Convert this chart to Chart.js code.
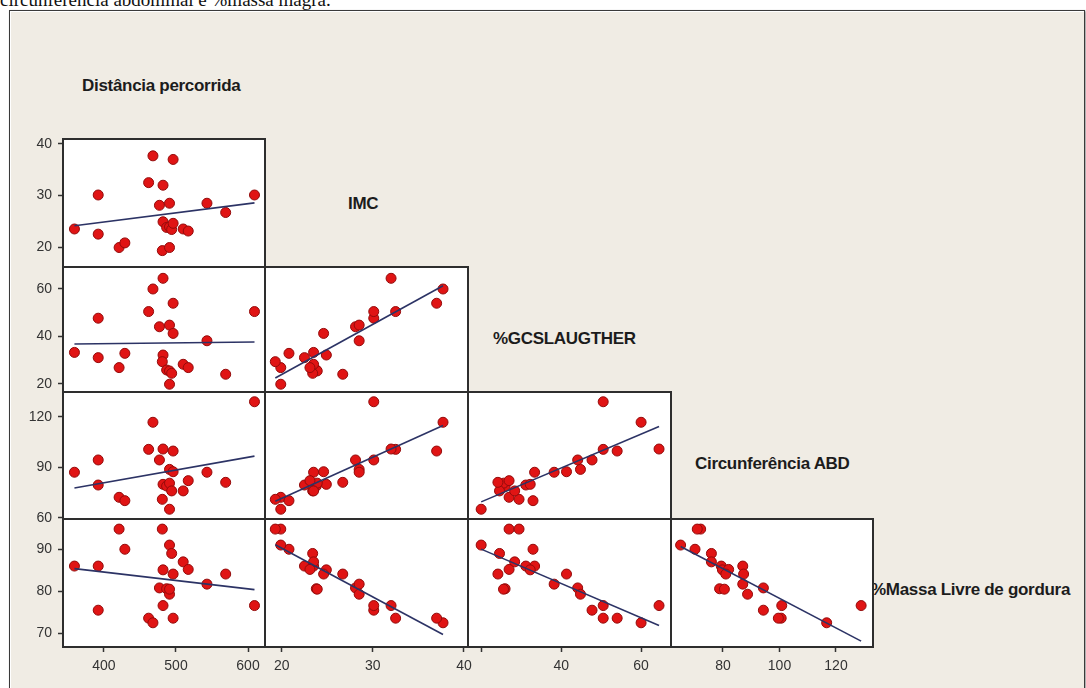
<!DOCTYPE html>
<html>
<head>
<meta charset="utf-8">
<script src="https://cdn.jsdelivr.net/npm/chart.js@4.4.1/dist/chart.umd.min.js"></script>
<style>
html,body{margin:0;padding:0;background:#fff;width:1086px;height:688px;overflow:hidden;position:relative;font-family:'Liberation Sans',Arial,sans-serif;}
#topline{position:absolute;left:0px;top:-10px;font-family:'Liberation Serif','Times New Roman',serif;font-size:19px;line-height:19px;white-space:nowrap;color:#111;}
#frame{position:absolute;left:9px;top:10px;width:1074px;height:700px;background:#f0ece4;border:1px solid #3a3a3a;box-shadow:inset 1px 1px 0 #ffffff,1px 1px 2px rgba(0,0,0,0.45);}
.vlabel{position:absolute;font-weight:bold;font-size:17px;line-height:17px;letter-spacing:-0.3px;white-space:nowrap;color:#1c1c1c;}
canvas{position:absolute;}
</style>
</head>
<body>
<div id="topline">circunferência abdominal e %massa magra.</div>
<div id="frame"></div>
<script>
// ---- data (one value per subject) ----
const varNames = ['Distância percorrida', 'IMC', '%GCSLAUGTHER', 'Circunferência ABD', '%Massa Livre de gordura'];
const distancia   = [359, 392, 392, 421, 429, 462, 468, 477, 482, 482, 481, 487, 491, 491, 491, 494, 496, 496, 510, 517, 543, 569, 609];
const imc         = [23.5, 30.1, 22.5, 19.9, 20.8, 32.5, 37.7, 28.1, 32.0, 24.9, 19.3, 23.8, 28.5, 23.9, 19.9, 23.4, 37.0, 24.6, 23.5, 23.1, 28.5, 26.7, 30.1];
const gcSlaughter = [33.3, 47.7, 31.1, 26.9, 32.9, 50.5, 60.0, 44.1, 64.5, 32.2, 29.4, 25.9, 44.8, 25.5, 19.9, 24.5, 54.0, 41.3, 28.3, 26.9, 38.2, 24.1, 50.5];
const circAbd     = [87.0, 94.3, 79.4, 72.1, 70.1, 100.6, 116.7, 94.3, 100.8, 79.8, 70.9, 78.8, 88.7, 80.5, 65.0, 75.9, 99.6, 87.3, 75.9, 82.0, 87.0, 81.0, 128.9];
const massaLivre  = [86.0, 75.5, 86.0, 94.8, 90.0, 73.6, 72.5, 80.8, 76.6, 85.1, 94.8, 80.6, 79.3, 80.5, 91.0, 89.0, 73.6, 84.1, 87.0, 85.2, 81.7, 84.1, 76.6];

// ---- tick labels ----
const distTicks   = [400, 500, 600];
const imcTicks    = [20, 30, 40];
const gcTicks     = [20, 40, 60];
const abdYTicks   = [60, 90, 120];
const abdXTicks   = [80, 100, 120];
const mlgTicks    = [70, 80, 90];
const gcXHiddenLabels = [20];

const series = [distancia, imc, gcSlaughter, circAbd, massaLivre];

// ---- layout / axis configuration ----
const xAxisCfg = [
  {min: 343.1, max: 623.6, ticks: distTicks, hide: []},
  {min: 18.17, max: 40.44, ticks: imcTicks, hide: []},
  {min: 16.6,  max: 67.5,  ticks: gcTicks, hide: gcXHiddenLabels},
  {min: 61.6,  max: 133.1, ticks: abdXTicks, hide: []}
];
const yAxisCfg = [
  null,
  {min: 16.12, max: 40.97, ticks: imcTicks},
  {min: 16.63, max: 69.26, ticks: gcTicks},
  {min: 59.2,  max: 134.7, ticks: abdYTicks},
  {min: 66.74, max: 97.2,  ticks: mlgTicks}
];
const colEdges = [63, 265, 468, 671, 873];
const rowEdges = [139, 267, 392, 519, 647];
const labelPos = [
  {left: 82, top: 77}, {left: 348, top: 195}, {left: 493, top: 330}, {left: 695, top: 455}, {left: 871, top: 581}
];
const AXW = 40, AXH = 30, EXT = 10;

varNames.forEach((n, i) => {
  const d = document.createElement('div');
  d.className = 'vlabel';
  d.textContent = n;
  d.style.left = labelPos[i].left + 'px';
  d.style.top = labelPos[i].top + 'px';
  document.body.appendChild(d);
});

function regression(xs, ys) {
  const n = xs.length;
  const mx = xs.reduce((a, b) => a + b, 0) / n;
  const my = ys.reduce((a, b) => a + b, 0) / n;
  let sxy = 0, sxx = 0;
  for (let i = 0; i < n; i++) { sxy += (xs[i] - mx) * (ys[i] - my); sxx += (xs[i] - mx) ** 2; }
  const b = sxy / sxx, a = my - b * mx;
  const x0 = Math.min(...xs), x1 = Math.max(...xs);
  return [{x: x0, y: a + b * x0}, {x: x1, y: a + b * x1}];
}

const panelPlugin = {
  id: 'panel',
  beforeDraw(chart) {
    const {ctx, chartArea: a} = chart;
    ctx.save();
    ctx.fillStyle = '#ffffff';
    ctx.fillRect(a.left, a.top, a.right - a.left, a.bottom - a.top);
    ctx.restore();
  },
  afterDraw(chart) {
    const {ctx, chartArea: a} = chart;
    ctx.save();
    ctx.strokeStyle = '#2e2e2e';
    ctx.lineWidth = 2;
    ctx.strokeRect(a.left, a.top, a.right - a.left, a.bottom - a.top);
    ctx.restore();
  }
};

const tickFont = {family: "'Liberation Sans', Arial, sans-serif", size: 14};
const zeroPad = () => ({left: 0, top: 0, right: 0, bottom: 0});

function axisOptions(cfg, show, isX) {
  return {
    type: 'linear',
    min: cfg.min, max: cfg.max,
    display: show,
    position: isX ? 'bottom' : 'left',
    afterBuildTicks: s => { s.ticks = cfg.ticks.map(v => ({value: v})); },
    afterFit: s => {
      if (show) { if (isX) s.height = AXH; else s.width = AXW; }
      s.paddingLeft = 0; s.paddingRight = 0; s.paddingTop = 0; s.paddingBottom = 0;
      s.getPadding = zeroPad;
    },
    grid: {display: true, drawOnChartArea: false, drawTicks: true, tickLength: 5, tickColor: '#333', tickWidth: 1.5, color: '#333'},
    border: {display: false},
    ticks: {
      font: tickFont, color: '#333', padding: 6, maxRotation: 0, autoSkip: false,
      callback: v => (cfg.hide && cfg.hide.includes(v)) ? '' : String(v)
    }
  };
}

for (let r = 1; r <= 4; r++) {
  for (let c = 0; c < r; c++) {
    const x0 = colEdges[c], x1 = colEdges[c + 1], y0 = rowEdges[r - 1], y1 = rowEdges[r];
    const showY = c === 0, showX = r === 4;
    const padL = showY ? AXW : 1;
    const padR = showX ? EXT : 1;
    const padT = showY ? EXT : 1;
    const padB = showX ? AXH : (showY ? EXT : 1);
    const w = (x1 - x0) + padL + padR, h = (y1 - y0) + padT + padB;
    const cv = document.createElement('canvas');
    cv.width = w; cv.height = h;
    cv.style.left = (x0 - padL) + 'px';
    cv.style.top = (y0 - padT) + 'px';
    cv.style.width = w + 'px';
    cv.style.height = h + 'px';
    document.body.appendChild(cv);

    const pts = series[c].map((v, i) => ({x: v, y: series[r][i]}));
    new Chart(cv, {
      type: 'scatter',
      data: {
        datasets: [
          {data: pts, pointRadius: 5, pointHoverRadius: 5, backgroundColor: '#e01414', borderColor: '#940b0b', borderWidth: 1, order: 1},
          {data: regression(series[c], series[r]), showLine: true, borderColor: '#2c3365', borderWidth: 1.6, pointRadius: 0, fill: false, order: 0}
        ]
      },
      options: {
        responsive: false, animation: false, devicePixelRatio: 1,
        layout: {autoPadding: false, padding: {left: showY ? 0 : 1, right: padR, top: padT, bottom: showX ? 0 : padB}},
        plugins: {legend: {display: false}, tooltip: {enabled: false}},
        scales: {
          x: axisOptions(xAxisCfg[c], showX, true),
          y: axisOptions(yAxisCfg[r], showY, false)
        }
      },
      plugins: [panelPlugin]
    });
  }
}
</script>
</body>
</html>
